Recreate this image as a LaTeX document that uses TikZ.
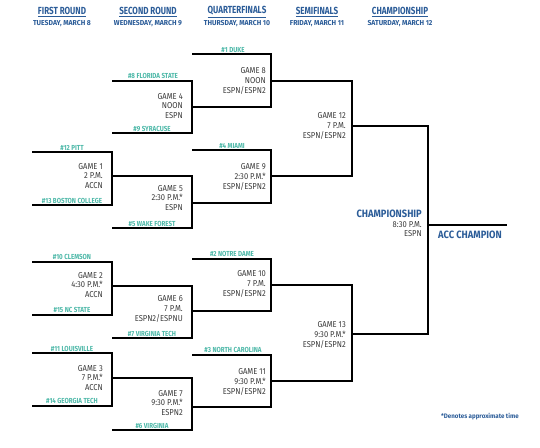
\documentclass[tikz,border=0pt]{standalone}
\usepackage{fontspec}
\newfontfamily\cond[FakeStretch=0.78]{Fira Sans}
\newfontfamily\condt[FakeStretch=0.85]{Fira Sans}
\newfontfamily\condw[FakeStretch=0.88]{Fira Sans}
\newfontfamily\condx[FakeStretch=0.95]{Fira Sans}
\definecolor{hdrblue}{HTML}{2B5C98}
\definecolor{teamteal}{HTML}{4DB8A8}
\definecolor{gametext}{HTML}{3A3A3A}
\newcommand\mkbracket[5]{%
  \coordinate (#1tl) at (#2,#4);
  \coordinate (#1br) at (#3,#5);
  \coordinate (#1bl) at (#2,#5);
  \draw[bracketline] (#1tl) -| (#1br) -- (#1bl);
}
\tikzset{
  bracketline/.style={line width=1.4pt, black},
  title/.style={font=\cond\bfseries\fontsize{10.3}{11}\selectfont, text=hdrblue, inner sep=0pt},
  subtitle/.style={font=\condx\bfseries\fontsize{7.2}{8}\selectfont, text=hdrblue, inner sep=0pt},
  team/.style={font=\condt\bfseries\fontsize{7.3}{8}\selectfont, text=teamteal, inner sep=0pt},
  game/.style={font=\condw\fontsize{8.6}{9.8}\selectfont, text=gametext, align=right, anchor=east, inner sep=0pt},
  bigblue/.style={font=\condw\bfseries\fontsize{10.6}{11}\selectfont, text=hdrblue, inner sep=0pt},
}
\begin{document}
\begin{tikzpicture}[x=1pt,y=-1pt]
\useasboundingbox (0,0) rectangle (540,447);
% headers
\node[title] (h1) at (62,12) {\underline{FIRST ROUND}};
\node[subtitle] (s1) at (62,24) {TUESDAY, MARCH 8};
\node[title] (h2) at (148,12) {\underline{SECOND ROUND}};
\node[subtitle] (s2) at (148,24) {WEDNESDAY, MARCH 9};
\node[title] (h3) at (237,12) {\underline{QUARTERFINALS}};
\node[subtitle] (s3) at (237,24) {THURSDAY, MARCH 10};
\node[title] (h4) at (317,12) {\underline{SEMIFINALS}};
\node[subtitle] (s4) at (317,24) {FRIDAY, MARCH 11};
\node[title] (h5) at (400,12) {\underline{CHAMPIONSHIP}};
\node[subtitle] (s5) at (400,24) {SATURDAY, MARCH 12};
% brackets
\mkbracket{g1}{32}{112}{152}{205}
\mkbracket{g2}{32}{112}{262}{315}
\mkbracket{g3}{32}{112}{353}{406}
\mkbracket{g4}{112}{192}{81}{133}
\mkbracket{g5}{112}{192}{176}{228}
\mkbracket{g6}{112}{192}{286}{338}
\mkbracket{g7}{112}{192}{378}{430}
\mkbracket{g8}{192}{271}{54}{107}
\mkbracket{g9}{192}{271}{150}{203}
\mkbracket{g10}{192}{271}{259}{311}
\mkbracket{g11}{192}{271}{355}{407}
\mkbracket{g12}{271}{352}{81}{176}
\mkbracket{g13}{271}{352}{285}{381}
\mkbracket{ch}{352}{428}{126}{334}
\coordinate (chout) at (428,225);
\coordinate (chend) at (507,225);
\draw[bracketline] (chout) -- (chend);
% team labels
\node[team] (t1) at (233,50) {\#1 DUKE};
\node[team] (t8) at (153,76) {\#8 FLORIDA STATE};
\node[team] (t9) at (152,129) {\#9 SYRACUSE};
\node[team] (t12) at (72,148) {\#12 PITT};
\node[team] (t4) at (232,146) {\#4 MIAMI};
\node[team] (t13) at (72,201) {\#13 BOSTON COLLEGE};
\node[team] (t5) at (152,224) {\#5 WAKE FOREST};
\node[team] (t10) at (72,257) {\#10 CLEMSON};
\node[team] (t2) at (232,254) {\#2 NOTRE DAME};
\node[team] (t15) at (72,310) {\#15 NC STATE};
\node[team] (t7) at (152,334) {\#7 VIRGINIA TECH};
\node[team] (t3) at (233,350) {\#3 NORTH CAROLINA};
\node[team] (t11) at (72,349) {\#11 LOUISVILLE};
\node[team] (t14) at (72,401) {\#14 GEORGIA TECH};
\node[team] (t6) at (152,426) {\#6 VIRGINIA};
% game texts
\node[game] (G1) at (103,176) {GAME 1\\2 P.M.\\ACCN};
\node[game] (G2) at (103,285) {GAME 2\\4:30 P.M.*\\ACCN};
\node[game] (G3) at (103,378) {GAME 3\\7 P.M.*\\ACCN};
\node[game] (G4) at (183,106) {GAME 4\\NOON\\ESPN};
\node[game] (G5) at (183,198) {GAME 5\\2:30 P.M.*\\ESPN};
\node[game] (G6) at (183,309) {GAME 6\\7 P.M.\\ESPN2/ESPNU};
\node[game] (G7) at (183,403) {GAME 7\\9:30 P.M.*\\ESPN2};
\node[game] (G8) at (266,81) {GAME 8\\NOON\\ESPN/ESPN2};
\node[game] (G9) at (266,177) {GAME 9\\2:30 P.M.*\\ESPN/ESPN2};
\node[game] (G10) at (266,284) {GAME 10\\7 P.M.\\ESPN/ESPN2};
\node[game] (G11) at (266,382) {GAME 11\\9:30 P.M.*\\ESPN/ESPN2};
\node[game] (G12) at (346,126) {GAME 12\\7 P.M.\\ESPN/ESPN2};
\node[game] (G13) at (346,335) {GAME 13\\9:30 P.M.*\\ESPN/ESPN2};
% championship
\node[bigblue, anchor=east] (chtitle) at (422,214) {CHAMPIONSHIP};
\node[game] (chinfo) at (422,229) {8:30 P.M.\\ESPN};
\node[bigblue, anchor=west] (champ) at (438,235) {ACC CHAMPION};
\node[font=\condx\bfseries\fontsize{6.5}{8}\selectfont, text=hdrblue, inner sep=0pt, anchor=west] (note) at (441,417) {*Denotes approximate time};
\end{tikzpicture}
\end{document}
